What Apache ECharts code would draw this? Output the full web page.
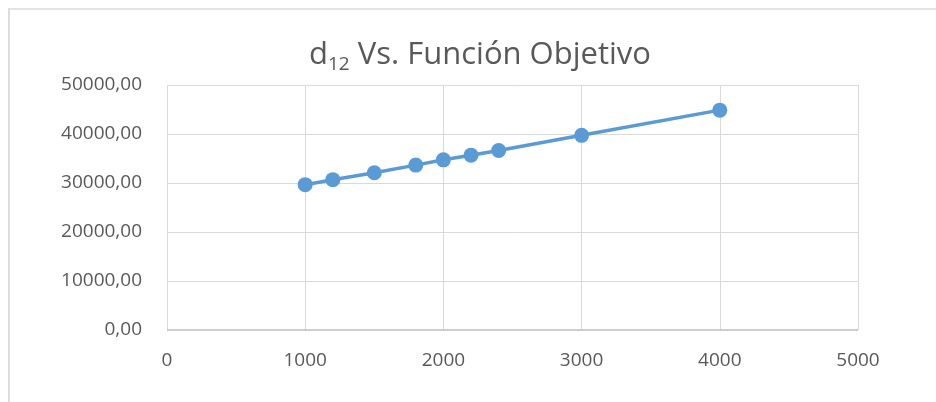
<!DOCTYPE html>
<html>
<head>
<meta charset="utf-8">
<script src="https://cdn.jsdelivr.net/npm/echarts@6/dist/echarts.min.js"></script>
<style>
  html, body { margin: 0; padding: 0; background: #fff; }
  #frame { position: absolute; left: 8px; top: 8px; width: 940px; height: 400px;
           border-left: 2px solid #dcdcdc; border-top: 2px solid #e3e3e3; box-sizing: border-box; }
  #chart { position: absolute; left: 0; top: 0; width: 936px; height: 402px; }
</style>
</head>
<body>
<div id="frame"></div>
<div id="chart"></div>
<script>
// d12 values and the resulting objective function
const d12 = [1000, 1200, 1500, 1800, 2000, 2200, 2400, 3000, 4000];
const objetivo = [29660, 30680, 32100, 33650, 34730, 35680, 36630, 39730, 44870];

const chart = echarts.init(document.getElementById('chart'), null, { renderer: 'canvas' });
const labelColor = '#595959';
const gridColor = '#d9d9d9';
const font = 'Open Sans';

chart.setOption({
  animation: false,
  backgroundColor: 'transparent',
  title: {
    text: '{d|d}{s|12}{t| Vs. Función Objetivo}',
    left: 304,
    top: 32,
    textStyle: {
      rich: {
        d: { fontFamily: font, fontSize: 31, fontWeight: 'normal', color: labelColor, lineHeight: 37 },
        s: { fontFamily: font, fontSize: 19, fontWeight: 'normal', color: labelColor, padding: [18, 0, 0, 0], lineHeight: 37 },
        t: { fontFamily: font, fontSize: 31, fontWeight: 'normal', color: labelColor, lineHeight: 37 }
      }
    }
  },
  grid: { left: 167, right: 78, top: 85, bottom: 72, containLabel: false },
  xAxis: {
    type: 'value',
    min: 0, max: 5000, interval: 1000,
    axisLine: { show: false },
    axisTick: { show: false },
    splitLine: { show: true, lineStyle: { color: gridColor, width: 1 } },
    axisLabel: {
      color: labelColor, fontFamily: font, fontSize: 19, margin: 21,
      formatter: v => String(v)
    }
  },
  yAxis: {
    type: 'value',
    min: 0, max: 50000, interval: 10000,
    axisLine: { show: false },
    axisTick: { show: false },
    splitLine: { show: true, lineStyle: { color: gridColor, width: 1 } },
    axisLabel: {
      color: labelColor, fontFamily: font, fontSize: 19, margin: 25,
      formatter: v => v.toFixed(2).replace('.', ',')
    }
  },
  series: [{
    type: 'line',
    data: d12.map((x, i) => [x, objetivo[i]]),
    symbol: 'circle',
    symbolSize: 15,
    lineStyle: { color: '#5b9bd5', width: 3.5 },
    itemStyle: { color: '#5b9bd5' },
    z: 3
  }, {
    // base line along the x-axis, slightly darker than the grid
    type: 'line',
    data: [[0, 0], [5000, 0]],
    symbol: 'none',
    lineStyle: { color: '#bfbfbf', width: 1.5 },
    silent: true,
    z: 2
  }]
});
</script>
</body>
</html>
